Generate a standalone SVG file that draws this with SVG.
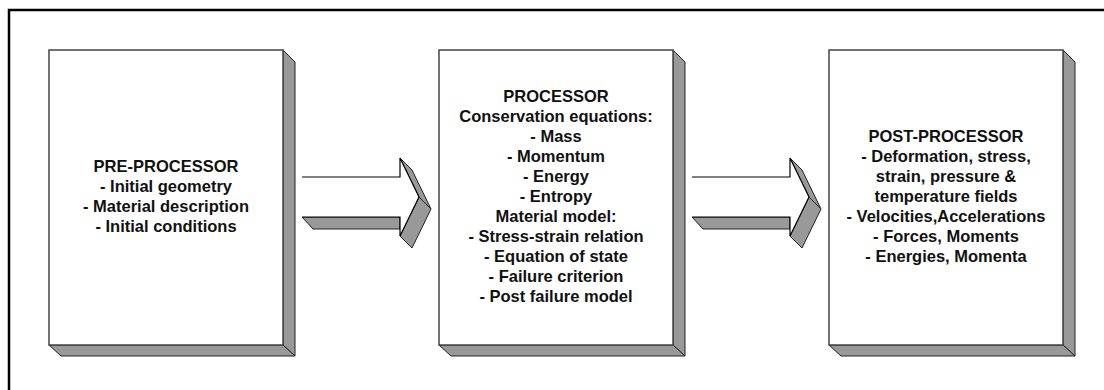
<svg xmlns="http://www.w3.org/2000/svg" width="1104" height="390" viewBox="0 0 1104 390">
<style>
.frame{fill:none;stroke:#000;stroke-width:2.5}
.front{fill:#fff;stroke:#444;stroke-width:1.5}
.side{fill:#999;stroke:#222;stroke-width:1;stroke-linejoin:miter}
.afront{fill:#fff;stroke:#000;stroke-width:1.2}
.t{font-family:"Liberation Sans",Arial,sans-serif;font-weight:bold;font-size:16.5px;fill:#111;text-anchor:middle}
</style>
<rect width="1104" height="390" fill="#fff"/>
<rect class="frame" x="9" y="10" width="1110" height="400"/>
<g id="pre-processor">
<polygon class="side" points="283,50 295,62 295,356 283,345"/>
<polygon class="side" points="49,345 61,356 295,356 283,345"/>
<rect class="front" x="49" y="50" width="234" height="295"/>
<text class="t" x="166" y="172">PRE-PROCESSOR</text>
<text class="t" x="166" y="192">- Initial geometry</text>
<text class="t" x="166" y="212">- Material description</text>
<text class="t" x="166" y="232">- Initial conditions</text>
</g>
<g id="processor">
<polygon class="side" points="673,50 685,62 685,356 673,345"/>
<polygon class="side" points="439,345 451,356 685,356 673,345"/>
<rect class="front" x="439" y="50" width="234" height="295"/>
<text class="t" x="556" y="102">PROCESSOR</text>
<text class="t" x="556" y="122">Conservation equations:</text>
<text class="t" x="556" y="142">- Mass</text>
<text class="t" x="556" y="162">- Momentum</text>
<text class="t" x="556" y="182">- Energy</text>
<text class="t" x="556" y="202">- Entropy</text>
<text class="t" x="556" y="222">Material model:</text>
<text class="t" x="556" y="242">- Stress-strain relation</text>
<text class="t" x="556" y="262">- Equation of state</text>
<text class="t" x="556" y="282">- Failure criterion</text>
<text class="t" x="556" y="302">- Post failure model</text>
</g>
<g id="post-processor">
<polygon class="side" points="1063,50 1075,62 1075,356 1063,345"/>
<polygon class="side" points="829,345 841,356 1075,356 1063,345"/>
<rect class="front" x="829" y="50" width="234" height="295"/>
<text class="t" x="946" y="142">POST-PROCESSOR</text>
<text class="t" x="946" y="162">- Deformation, stress,</text>
<text class="t" x="946" y="182">strain, pressure &amp;</text>
<text class="t" x="946" y="202">temperature fields</text>
<text class="t" x="946" y="222">- Velocities,Accelerations</text>
<text class="t" x="946" y="242">- Forces, Moments</text>
<text class="t" x="946" y="262">- Energies, Momenta</text>
</g>
<g id="connectors">
<g id="arrow1">
<path d="M302,177 H400 V158 L419,197 L400,236 V217 H302 Z" fill="#fff" stroke="none"/>
<polygon class="side" points="302,217 313,229 400,229 400,217"/>
<polygon class="side" points="400,158 412,170 431,209 419,197"/>
<polygon class="side" points="419,197 431,209 412,248 400,236"/>
<path class="afront" d="M302,177 H400 V158 L419,197 L400,236 V217 H302" fill="none"/>
</g>
<g id="arrow2">
<path d="M692,177 H790 V158 L809,197 L790,236 V217 H692 Z" fill="#fff" stroke="none"/>
<polygon class="side" points="692,217 703,229 790,229 790,217"/>
<polygon class="side" points="790,158 802,170 821,209 809,197"/>
<polygon class="side" points="809,197 821,209 802,248 790,236"/>
<path class="afront" d="M692,177 H790 V158 L809,197 L790,236 V217 H692" fill="none"/>
</g>
</g>
</svg>
